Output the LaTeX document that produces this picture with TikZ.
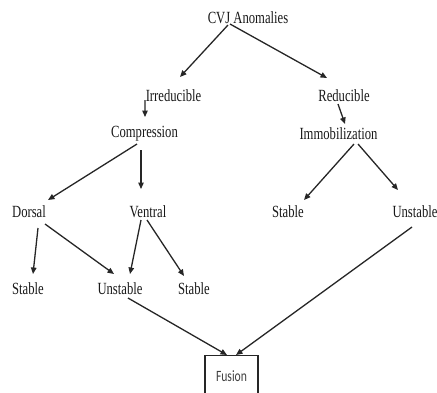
\documentclass[tikz,border=0pt]{standalone}
\usepackage{fontspec}
\usepackage{graphicx}
\setmainfont{Liberation Serif}
\newfontfamily\fusionfont{Carlito}
\usetikzlibrary{arrows.meta,calc}
\newcommand{\vstretch}[1]{\scalebox{1}[1.35]{#1}}
\tikzset{
  lbl/.style={inner sep=0pt, text=black!90, font=\fontsize{12.7}{14}\selectfont},
  arr/.style={draw=black!85, line width=1.3bp, -{Triangle[length=6.5bp,width=5.5bp]}},
  fbox/.style={draw=black!85, line width=1.3bp, anchor=north, minimum width=53bp, minimum height=44bp, inner sep=0pt, text=black!75, font=\fusionfont\fontsize{11.7}{13}\selectfont}
}
\begin{document}
\begin{tikzpicture}[x=1bp,y=-1bp]
\useasboundingbox (0,0) rectangle (437,392);
\clip (0,0) rectangle (437,392);
\node[lbl] (cvj) at (248,18) {\vstretch{CVJ Anomalies}};
\node[lbl] (irr) at (173.5,96) {\vstretch{Irreducible}};
\node[lbl] (red) at (344,96) {\vstretch{Reducible}};
\node[lbl] (comp) at (144.5,134) {\vstretch{Compression}};
\node[lbl] (immo) at (338.5,134) {\vstretch{Immobilization}};
\node[lbl] (dorsal) at (29,212) {\vstretch{Dorsal}};
\node[lbl] (ventral) at (148,212) {\vstretch{Ventral}};
\node[lbl] (stR) at (288,212) {\vstretch{Stable}};
\node[lbl] (unR) at (415,212) {\vstretch{Unstable}};
\node[lbl] (stL) at (28,289) {\vstretch{Stable}};
\node[lbl] (unM) at (120,289) {\vstretch{Unstable}};
\node[lbl] (stM) at (194,289) {\vstretch{Stable}};
\node[fbox] (fusion) at (231.5,355) {\raisebox{4bp}{\vstretch{Fusion}}};

\draw[arr] ($(cvj)+(-20,7)$) -- ($(irr)+(6.5,-19)$);
\draw[arr] ($(cvj)+(-18,6)$) -- ($(red)+(-17,-18)$);
\draw[arr] ($(irr)+(-28.5,4)$) -- ($(comp)+(0.5,-17)$);
\draw[arr] ($(red)+(-6,8)$) -- ($(immo)+(6.5,-10)$);
\draw[arr] ($(comp)+(-7.5,10)$) -- ($(dorsal)+(19,-12)$);
\draw[arr] ($(comp)+(-3.5,16)$) -- ($(ventral)+(-7,-23)$);
\draw[arr] ($(immo)+(15.5,10)$) -- ($(stR)+(16,-12)$);
\draw[arr] ($(immo)+(19.5,10)$) -- ($(unR)+(-17,-22)$);
\draw[arr] ($(dorsal)+(9,16)$) -- ($(stL)+(5,-15)$);
\draw[arr] ($(dorsal)+(16,12)$) -- ($(unM)+(-6,-15)$);
\draw[arr] ($(ventral)+(-7,8)$) -- ($(unM)+(10,-15)$);
\draw[arr] ($(ventral)+(-1,8)$) -- ($(stM)+(-10,-13)$);
\draw[arr] ($(unM)+(8,9)$) -- ($(fusion.north)+(-4.5,0)$);
\draw[arr] ($(unR)+(-3,15)$) -- ($(fusion.north)+(4.5,0)$);
\end{tikzpicture}
\end{document}
